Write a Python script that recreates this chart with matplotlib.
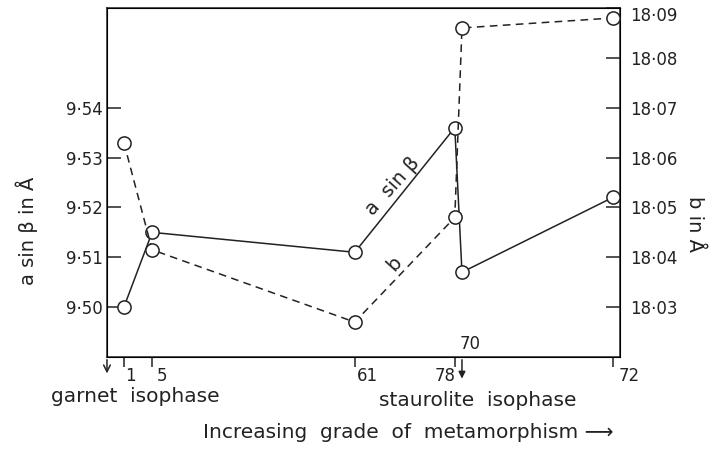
import numpy as np
import matplotlib.pyplot as plt
import matplotlib.transforms as mtransforms

# sample numbers along the grade axis and their positions (0 = left axis, 100 = right axis)
samples = ['1', '5', '61', '78', '70', '72']
grade_pos = [3.3, 8.8, 48.3, 67.8, 69.2, 98.6]

# a sin(beta) in A (left axis) and b in A (right axis)
a_sin_beta = [9.500, 9.515, 9.511, 9.536, 9.507, 9.522]
b_axis = [18.063, 18.0415, 18.027, 18.048, 18.086, 18.088]

left_ticks = [9.50, 9.51, 9.52, 9.53, 9.54]
left_labels = ['9·50', '9·51', '9·52', '9·53', '9·54']
right_ticks = [18.03, 18.04, 18.05, 18.06, 18.07, 18.08, 18.09]
right_labels = ['18·03', '18·04', '18·05', '18·06', '18·07', '18·08', '18·09']

plt.rcParams['font.family'] = ['DejaVu Sans']
plt.rcParams['font.size'] = 12

fig = plt.figure(figsize=(7.16, 4.5), dpi=100)
ax = fig.add_axes([0.1494, 0.2067, 0.7165, 0.7755])
ax2 = ax.twinx()

lc = '#222222'
ax.plot(grade_pos, a_sin_beta, '-', color=lc, lw=1.1, marker='o', ms=9.5,
        mfc='white', mec=lc, mew=1.1, zorder=3)
ax2.plot(grade_pos, b_axis, '--', color=lc, lw=1.1, dashes=(5, 3.5), marker='o', ms=9.5,
         mfc='white', mec=lc, mew=1.1, zorder=3)

ax.set_xlim(0, 100)
ax.set_ylim(9.49, 9.56)
ax2.set_ylim(18.02, 18.09)

ax.set_yticks(left_ticks)
ax.set_yticklabels(left_labels)
ax2.set_yticks(right_ticks)
ax2.set_yticklabels(right_labels)
ax.tick_params(axis='y', direction='in', length=10, width=1.1, pad=3, colors=lc)
ax2.tick_params(axis='y', direction='in', length=10, width=1.1, pad=7, colors=lc)
# top right label sits a little below its tick
top_lab = ax2.get_yticklabels()[-1]
top_lab.set_transform(top_lab.get_transform() +
                      mtransforms.ScaledTranslation(0, -6 / 100, fig.dpi_scale_trans))

# x ticks: samples 1, 5, 61, 78, 72 ; 70 is marked with an arrow
tick_idx = [0, 1, 2, 3, 5]
ax.set_xticks([grade_pos[i] for i in tick_idx])
ax.set_xticklabels([])
ax.tick_params(axis='x', direction='out', length=7, width=1.1, colors=lc)

trans = mtransforms.blended_transform_factory(ax.transData, ax.transAxes)
offsets = {'1': 5, '5': 7, '61': 9, '78': -7, '72': 12}
for i in tick_idx:
    ax.annotate(samples[i], (grade_pos[i], 0), xycoords=trans,
                xytext=(offsets[samples[i]], -14), textcoords='offset points',
                ha='center', va='center', color=lc)

# arrow for sample 70 and at the left axis
ax.annotate('', xy=(grade_pos[4], -0.07), xycoords=trans,
            xytext=(grade_pos[4], 0), textcoords=trans,
            arrowprops=dict(arrowstyle='-|>', color=lc, lw=1.1, mutation_scale=10))
ax.annotate(samples[4], (grade_pos[4], 0), xycoords=trans, xytext=(6, 9),
            textcoords='offset points', ha='center', va='center', color=lc)
ax.annotate('', xy=(0, -0.055), xycoords=trans, xytext=(0, 0), textcoords=trans,
            arrowprops=dict(arrowstyle='->', color=lc, lw=1.1))

for sp in ax.spines.values():
    sp.set_linewidth(1.1)
    sp.set_color(lc)

ax.set_ylabel('a sin β in Å', fontsize=14, color=lc)
ax2.set_ylabel('b in Å', fontsize=14, color=lc, rotation=-90)
ax.yaxis.set_label_coords(-0.134, 0.36)
ax2.yaxis.set_label_coords(1.164, 0.38)

ax.text(55.7, 9.5242, 'a  sin β', rotation=48, fontsize=14, color=lc,
        ha='center', va='center')
ax.text(56.1, 9.5088, 'b', rotation=48, fontsize=14, color=lc,
        ha='center', va='center')

fig.text(135 / 716, 1 - 397 / 450, 'garnet  isophase', fontsize=14.5, color=lc,
         ha='center', va='center')
fig.text(478 / 716, 1 - 401 / 450, 'staurolite  isophase', fontsize=14.5, color=lc,
         ha='center', va='center')
fig.text(408 / 716, 1 - 433 / 450, 'Increasing  grade  of  metamorphism ⟶', fontsize=14.5,
         color=lc, ha='center', va='center')

fig.savefig('out.png', dpi=100)
